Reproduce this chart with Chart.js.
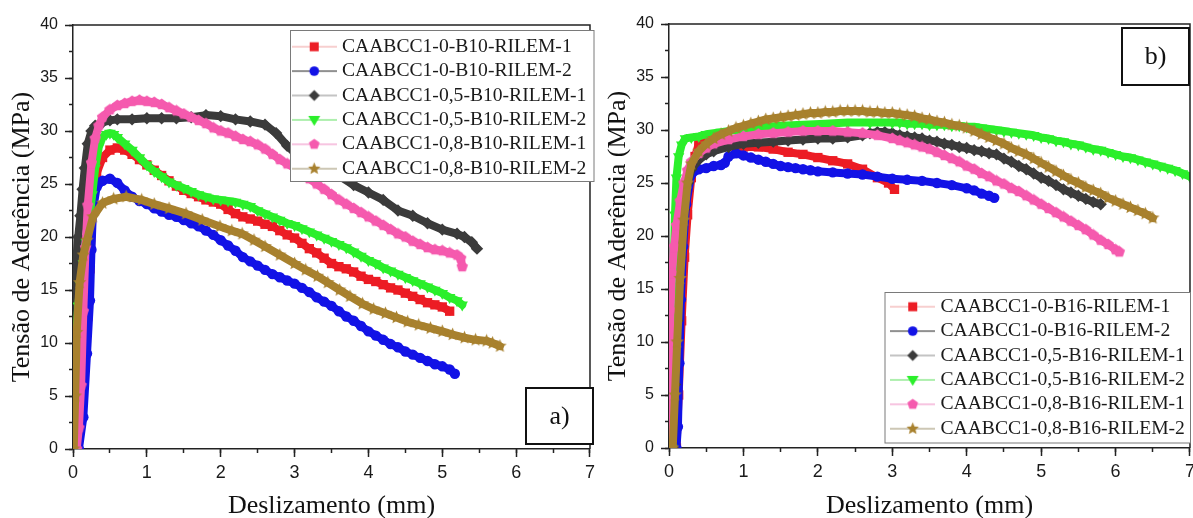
<!DOCTYPE html>
<html lang="pt">
<head>
<meta charset="utf-8">
<title>Tensão de aderência x deslizamento</title>
<script src="https://cdn.jsdelivr.net/npm/chart.js@4.4.1/dist/chart.umd.min.js"></script>
<style>
  html, body { margin: 0; padding: 0; background: #fff; overflow: hidden; }
  .panel { position: absolute; top: 0; }
  #panel-a { left: 0; }
  #panel-b { left: 600px; }
</style>
</head>
<body>
<canvas id="panel-a" class="panel" width="600" height="518"></canvas>
<canvas id="panel-b" class="panel" width="600" height="518"></canvas>
<script>
// --- Data: [slip (mm), bond stress (MPa)] ---

// B10 bars
const b10_0_r1 = [[0.05,0],[0.1,3],[0.15,7],[0.2,12.5],[0.23,17],[0.27,23],[0.32,26],[0.4,27.5],[0.5,28.2],[0.6,28.4],[0.7,28.2],[0.8,27.8],[0.9,27.3],[1.0,26.8],[1.1,26.3],[1.2,25.8],[1.3,25.3],[1.4,24.8],[1.5,24.4],[1.6,24.1],[1.7,23.8],[1.8,23.5],[1.9,23.3],[2.0,23.1],[2.1,22.6],[2.2,22.2],[2.3,21.9],[2.4,21.7],[2.5,21.5],[2.6,21.2],[2.7,21.0],[2.8,20.6],[2.9,20.2],[3.0,19.9],[3.1,19.4],[3.2,18.9],[3.3,18.5],[3.4,18.0],[3.5,17.5],[3.6,17.2],[3.7,17.0],[3.8,16.7],[3.9,16.3],[4.0,16.0],[4.1,15.8],[4.2,15.5],[4.3,15.2],[4.4,15.0],[4.5,14.7],[4.6,14.4],[4.7,14.1],[4.8,13.8],[4.9,13.6],[5.0,13.4],[5.1,13.0]];
const b10_0_r2 = [[0.08,0],[0.14,3],[0.19,9],[0.23,14],[0.25,18.8],[0.27,22.5],[0.32,24.7],[0.4,25.3],[0.5,25.5],[0.6,25.1],[0.7,24.4],[0.8,23.8],[0.9,23.4],[1.0,23.1],[1.1,22.7],[1.2,22.4],[1.3,22.1],[1.4,21.9],[1.5,21.6],[1.6,21.3],[1.7,21.0],[1.8,20.6],[1.9,20.2],[2.0,19.7],[2.1,19.2],[2.2,18.7],[2.3,18.1],[2.4,17.7],[2.5,17.3],[2.6,16.9],[2.7,16.5],[2.8,16.2],[2.9,15.9],[3.0,15.6],[3.1,15.2],[3.2,14.8],[3.3,14.3],[3.4,13.9],[3.5,13.5],[3.6,13.0],[3.7,12.5],[3.8,12.1],[3.9,11.6],[4.0,11.1],[4.1,10.7],[4.2,10.3],[4.3,9.9],[4.4,9.6],[4.5,9.2],[4.6,8.9],[4.7,8.6],[4.8,8.3],[4.9,8.0],[5.0,7.8],[5.1,7.5],[5.17,7.1]];
const b10_05_r1 = [[0.01,0],[0.02,14],[0.04,17.5],[0.07,20],[0.1,22],[0.13,24.5],[0.16,26.5],[0.2,28.8],[0.25,30],[0.3,30.5],[0.4,30.8],[0.5,31.0],[0.6,31.1],[0.8,31.1],[1.0,31.2],[1.2,31.2],[1.4,31.2],[1.6,31.3],[1.8,31.5],[2.0,31.4],[2.2,31.1],[2.4,30.9],[2.6,30.6],[2.75,29.8],[2.9,28.6],[3.0,28.0],[3.2,27.2],[3.4,26.6],[3.6,25.8],[3.8,24.9],[4.0,24.2],[4.2,23.5],[4.4,22.5],[4.6,22.0],[4.8,21.3],[5.0,20.7],[5.2,20.3],[5.3,20.0],[5.4,19.5],[5.47,18.9]];
const b10_05_r2 = [[0.02,0],[0.04,10],[0.07,13.5],[0.1,15.5],[0.14,17.5],[0.18,19.5],[0.22,21.5],[0.26,24],[0.3,26.5],[0.35,28.5],[0.4,29.4],[0.45,29.7],[0.5,29.8],[0.55,29.7],[0.6,29.4],[0.7,28.8],[0.8,28.2],[0.9,27.5],[1.0,26.8],[1.1,26.2],[1.2,25.7],[1.3,25.2],[1.4,24.9],[1.5,24.6],[1.6,24.3],[1.7,24.0],[1.8,23.8],[1.9,23.6],[2.0,23.5],[2.1,23.4],[2.2,23.3],[2.3,23.1],[2.4,22.9],[2.5,22.5],[2.6,22.2],[2.7,21.9],[2.8,21.6],[2.9,21.3],[3.0,21.1],[3.1,20.8],[3.2,20.5],[3.3,20.2],[3.4,19.9],[3.5,19.6],[3.6,19.3],[3.7,19.0],[3.8,18.6],[3.9,18.2],[4.0,17.8],[4.1,17.5],[4.2,17.1],[4.3,16.8],[4.4,16.5],[4.5,16.2],[4.6,15.9],[4.7,15.6],[4.8,15.3],[4.9,15.0],[5.0,14.7],[5.1,14.3],[5.2,14.0],[5.27,13.6]];
const b10_08_r1 = [[0.05,0],[0.08,2],[0.11,6],[0.14,13],[0.17,19],[0.2,23],[0.25,27],[0.3,29.3],[0.35,30.5],[0.4,31.3],[0.5,32.0],[0.6,32.4],[0.7,32.6],[0.8,32.8],[0.9,32.9],[1.0,32.8],[1.1,32.7],[1.2,32.5],[1.3,32.2],[1.4,31.9],[1.5,31.6],[1.6,31.3],[1.7,31.0],[1.8,30.7],[1.9,30.3],[2.0,30.0],[2.1,29.8],[2.2,29.5],[2.3,29.2],[2.4,29.0],[2.5,28.7],[2.6,28.3],[2.7,27.8],[2.8,27.3],[2.9,26.9],[3.0,26.5],[3.1,26.0],[3.2,25.5],[3.3,25.0],[3.4,24.5],[3.5,24.0],[3.6,23.5],[3.7,23.1],[3.8,22.7],[3.9,22.3],[4.0,21.9],[4.1,21.5],[4.2,21.1],[4.3,20.7],[4.4,20.3],[4.5,20.0],[4.6,19.6],[4.7,19.3],[4.8,19.0],[4.9,18.8],[5.0,18.7],[5.1,18.5],[5.2,18.3],[5.25,18.0],[5.27,17.2]];
const b10_08_r2 = [[0.01,0],[0.03,5],[0.05,11],[0.09,15.7],[0.14,18.3],[0.19,19.7],[0.27,21.9],[0.4,23.2],[0.55,23.6],[0.72,23.8],[0.93,23.5],[1.1,23.1],[1.3,22.7],[1.53,22.2],[1.75,21.6],[1.99,21.0],[2.15,20.6],[2.29,20.3],[2.45,19.7],[2.6,19.1],[2.8,18.3],[3.0,17.5],[3.15,16.9],[3.31,16.3],[3.45,15.7],[3.61,15.0],[3.75,14.4],[3.92,13.7],[4.07,13.2],[4.23,12.8],[4.38,12.4],[4.53,12.0],[4.68,11.7],[4.84,11.4],[5.0,11.1],[5.14,10.8],[5.3,10.5],[5.45,10.3],[5.6,10.2],[5.68,10.0],[5.78,9.7]];

// B16 bars
const b16_0_r1 = [[0.1,0],[0.13,5],[0.17,12],[0.21,18],[0.25,22],[0.3,25.5],[0.35,27.5],[0.4,28.7],[0.45,29.1],[0.5,28.9],[0.6,28.7],[0.7,28.6],[0.8,28.5],[0.9,28.5],[1.0,28.4],[1.2,28.4],[1.4,28.2],[1.6,27.9],[1.8,27.7],[2.0,27.4],[2.2,27.1],[2.4,26.8],[2.6,26.3],[2.8,25.5],[2.95,25.0],[3.03,24.4]];
const b16_0_r2 = [[0.1,0],[0.12,2],[0.14,8],[0.16,14],[0.19,19],[0.23,23],[0.3,25.8],[0.4,26.3],[0.5,26.4],[0.6,26.6],[0.7,26.7],[0.75,26.9],[0.8,27.5],[0.9,27.8],[1.0,27.6],[1.1,27.4],[1.2,27.2],[1.3,27.0],[1.4,26.8],[1.5,26.6],[1.6,26.5],[1.7,26.4],[1.8,26.3],[1.9,26.2],[2.0,26.1],[2.2,26.0],[2.4,25.9],[2.6,25.8],[2.8,25.6],[3.0,25.4],[3.2,25.3],[3.4,25.2],[3.6,25.0],[3.8,24.8],[4.0,24.5],[4.1,24.3],[4.2,24.0],[4.3,23.8],[4.37,23.6]];
const b16_05_r1 = [[0.05,0],[0.08,6],[0.11,12],[0.15,18],[0.2,22.5],[0.25,25],[0.3,26.3],[0.4,27.2],[0.5,27.7],[0.6,28.0],[0.8,28.4],[1.0,28.7],[1.2,28.8],[1.4,28.9],[1.6,29.0],[1.8,29.1],[2.0,29.2],[2.2,29.2],[2.4,29.3],[2.6,29.5],[2.7,29.7],[2.8,29.8],[2.9,29.8],[3.0,29.7],[3.1,29.5],[3.2,29.4],[3.3,29.3],[3.4,29.2],[3.5,29.0],[3.6,28.9],[3.7,28.7],[3.8,28.6],[3.9,28.4],[4.0,28.3],[4.1,28.1],[4.2,28.0],[4.3,27.8],[4.4,27.7],[4.5,27.3],[4.6,27.0],[4.7,26.6],[4.8,26.3],[4.9,25.9],[5.0,25.5],[5.1,25.2],[5.2,24.8],[5.3,24.4],[5.4,24.1],[5.5,23.8],[5.6,23.5],[5.7,23.2],[5.8,23.0]];
const b16_05_r2 = [[0.04,0],[0.05,8],[0.06,16],[0.08,22],[0.1,25.5],[0.13,27.5],[0.17,28.6],[0.22,29.2],[0.3,29.3],[0.4,29.4],[0.5,29.6],[0.7,29.8],[0.9,30.0],[1.1,30.1],[1.3,30.3],[1.5,30.4],[1.8,30.5],[2.1,30.6],[2.4,30.7],[2.7,30.7],[3.0,30.7],[3.1,30.7],[3.2,30.6],[3.3,30.6],[3.4,30.6],[3.5,30.5],[3.6,30.5],[3.7,30.5],[3.8,30.4],[3.9,30.4],[4.0,30.3],[4.1,30.3],[4.2,30.2],[4.3,30.1],[4.4,30.0],[4.5,29.9],[4.6,29.8],[4.7,29.7],[4.8,29.6],[4.9,29.5],[5.0,29.3],[5.1,29.2],[5.2,29.0],[5.3,28.9],[5.4,28.7],[5.5,28.6],[5.6,28.4],[5.7,28.2],[5.8,28.1],[5.9,27.9],[6.0,27.7],[6.1,27.5],[6.2,27.4],[6.3,27.2],[6.4,27.0],[6.5,26.8],[6.6,26.6],[6.7,26.4],[6.8,26.2],[6.9,25.9],[7.0,25.6]];
const b16_08_r1 = [[0.01,0],[0.02,13],[0.04,16.5],[0.07,19],[0.1,21],[0.15,23.3],[0.2,25],[0.25,26.2],[0.3,27],[0.4,27.8],[0.5,28.3],[0.6,28.7],[0.8,29.1],[1.0,29.4],[1.2,29.6],[1.4,29.7],[1.6,29.8],[1.8,29.9],[2.0,29.9],[2.2,29.9],[2.4,29.8],[2.6,29.7],[2.8,29.5],[3.0,29.2],[3.1,29.0],[3.2,28.8],[3.3,28.6],[3.4,28.4],[3.5,28.2],[3.6,27.9],[3.7,27.6],[3.8,27.3],[3.9,27.0],[4.0,26.6],[4.1,26.3],[4.2,25.9],[4.3,25.6],[4.4,25.2],[4.5,24.9],[4.6,24.5],[4.7,24.2],[4.8,23.8],[4.9,23.4],[5.0,23.0],[5.1,22.6],[5.2,22.2],[5.3,21.8],[5.4,21.4],[5.5,21.0],[5.6,20.6],[5.7,20.1],[5.8,19.6],[5.9,19.2],[6.0,18.7],[6.05,18.5]];
const b16_08_r2 = [[0.05,0],[0.08,5],[0.11,10],[0.15,16],[0.2,21.5],[0.25,25],[0.3,26.8],[0.4,28.0],[0.5,28.7],[0.6,29.2],[0.7,29.6],[0.8,29.9],[0.9,30.2],[1.0,30.4],[1.1,30.6],[1.2,30.8],[1.3,31.0],[1.4,31.1],[1.5,31.2],[1.6,31.3],[1.7,31.4],[1.8,31.5],[1.9,31.6],[2.0,31.6],[2.1,31.7],[2.2,31.7],[2.3,31.8],[2.4,31.8],[2.5,31.8],[2.6,31.8],[2.7,31.7],[2.8,31.7],[2.9,31.6],[3.0,31.6],[3.1,31.5],[3.2,31.4],[3.3,31.3],[3.4,31.1],[3.5,31.0],[3.6,30.8],[3.7,30.7],[3.8,30.5],[3.9,30.4],[4.0,30.2],[4.1,29.9],[4.2,29.6],[4.3,29.3],[4.4,29.0],[4.5,28.7],[4.6,28.3],[4.7,28.0],[4.8,27.7],[4.9,27.3],[5.0,26.9],[5.1,26.5],[5.2,26.1],[5.3,25.7],[5.4,25.3],[5.5,25.0],[5.6,24.6],[5.7,24.3],[5.8,24.0],[5.9,23.6],[6.0,23.3],[6.1,23.0],[6.2,22.7],[6.3,22.4],[6.4,22.1],[6.5,21.7]];

const seriesB10 = [b10_0_r1, b10_0_r2, b10_05_r1, b10_05_r2, b10_08_r1, b10_08_r2];
const seriesB16 = [b16_0_r1, b16_0_r2, b16_05_r1, b16_05_r2, b16_08_r1, b16_08_r2];

const labelsB10 = ['CAABCC1-0-B10-RILEM-1', 'CAABCC1-0-B10-RILEM-2', 'CAABCC1-0,5-B10-RILEM-1', 'CAABCC1-0,5-B10-RILEM-2', 'CAABCC1-0,8-B10-RILEM-1', 'CAABCC1-0,8-B10-RILEM-2'];
const labelsB16 = ['CAABCC1-0-B16-RILEM-1', 'CAABCC1-0-B16-RILEM-2', 'CAABCC1-0,5-B16-RILEM-1', 'CAABCC1-0,5-B16-RILEM-2', 'CAABCC1-0,8-B16-RILEM-1', 'CAABCC1-0,8-B16-RILEM-2'];

// axis ranges
const SLIP_MAX = 7, SLIP_STEP = 1;
const TAU_MAX = 40, TAU_STEP = 5;

// --- Styles ---
const SERIF = '"Liberation Serif", "Times New Roman", serif';
const SANS = '"Liberation Sans", Arial, sans-serif';
const INK = '#1a1a1a';
const COLORS = ['#ec1c24', '#1212e6', '#3b3b3b', '#2bef2b', '#f55aae', '#a8812e'];
const LEGEND_LINES = ['#f0a0a0', '#222222', '#8a8a8a', '#5fe05f', '#f08cc4', '#9c8f6c'];

function pentagonPath(g, x, y, r) {
  for (let i = 0; i < 5; i++) {
    const a = -Math.PI / 2 + i * 2 * Math.PI / 5;
    g.lineTo(x + r * Math.cos(a), y + r * Math.sin(a));
  }
}

function starPath(g, x, y, r) {
  for (let i = 0; i < 10; i++) {
    const a = -Math.PI / 2 + i * Math.PI / 5;
    const rr = i % 2 ? r * 0.45 : r;
    g.lineTo(x + rr * Math.cos(a), y + rr * Math.sin(a));
  }
}

// marker outline for series k, used by the legend samples
function shapePath(g, k, x, y) {
  switch (k) {
    case 0: g.rect(x - 4.5, y - 4.5, 9, 9); break;
    case 1: g.arc(x, y, 4.8, 0, Math.PI * 2); break;
    case 2: g.moveTo(x, y - 5.5); g.lineTo(x + 5.5, y); g.lineTo(x, y + 5.5); g.lineTo(x - 5.5, y); break;
    case 3: g.moveTo(x - 6, y - 4); g.lineTo(x + 6, y - 4); g.lineTo(x, y + 6); break;
    case 4: pentagonPath(g, x, y, 5.6); break;
    case 5: starPath(g, x, y, 6.5); break;
  }
}

function markerCanvas(pathFn, size, color) {
  const c = document.createElement('canvas');
  c.width = c.height = size;
  const g = c.getContext('2d');
  g.fillStyle = color;
  g.beginPath();
  pathFn(g, size / 2, size / 2, size / 2 - 0.5);
  g.closePath();
  g.fill();
  return c;
}

const MARKERS = [
  { style: 'rect', radius: 6.6 },
  { style: 'circle', radius: 5.2 },
  { style: 'rectRot', radius: 6.2 },
  { style: 'triangle', radius: 6.6, rotation: 180 },
  { style: markerCanvas(pentagonPath, 13, COLORS[4]), radius: 6.5 },
  { style: markerCanvas(starPath, 15, COLORS[5]), radius: 7 },
];

// line-and-marker swatch shown in the legend
function legendSample(k) {
  const c = document.createElement('canvas');
  c.width = 45;
  c.height = 16;
  const g = c.getContext('2d');
  g.strokeStyle = LEGEND_LINES[k];
  g.lineWidth = 1.2;
  g.beginPath();
  g.moveTo(0, 8);
  g.lineTo(45, 8);
  g.stroke();
  g.fillStyle = COLORS[k];
  g.beginPath();
  shapePath(g, k, 22.5, 8);
  g.closePath();
  g.fill();
  return c;
}
const legendSamples = COLORS.map((_, k) => legendSample(k));

function dataset(label, points, k) {
  const m = MARKERS[k];
  return {
    label,
    data: points,
    borderColor: COLORS[k],
    backgroundColor: COLORS[k],
    borderWidth: 8,
    borderJoinStyle: 'round',
    borderCapStyle: 'round',
    tension: 0,
    pointStyle: m.style,
    pointRadius: m.radius,
    pointRotation: m.rotation || 0,
    pointBorderWidth: 0,
    pointBackgroundColor: COLORS[k],
    order: 6 - k,
  };
}

// --- Frame, legend box and panel tag ---
const panelDecor = {
  id: 'panelDecor',
  afterLayout(chart, args, opts) {
    const lg = chart.legend;
    const box = opts.legendBox;
    lg.left = opts.legendAnchor.left;
    lg.top = opts.legendAnchor.top;
    lg.right = box.right + 10;
    lg.bottom = box.bottom + 30;
    lg.width = lg.right - lg.left;
    lg.height = lg.bottom - lg.top;
  },
  afterDatasetsDraw(chart, args, opts) {
    const { ctx, chartArea: a } = chart;
    const box = opts.legendBox;
    const tag = opts.tag;
    ctx.save();
    ctx.strokeStyle = '#222';
    ctx.lineWidth = 1.5;
    ctx.beginPath();
    ctx.moveTo(a.left, a.top);
    ctx.lineTo(a.right, a.top);
    ctx.lineTo(a.right, a.bottom);
    ctx.stroke();

    ctx.fillStyle = '#fff';
    ctx.fillRect(box.left, box.top, box.right - box.left, box.bottom - box.top);
    ctx.strokeStyle = '#7a7a7a';
    ctx.lineWidth = 1;
    ctx.strokeRect(box.left, box.top, box.right - box.left, box.bottom - box.top);

    ctx.fillRect(tag.left, tag.top, tag.right - tag.left, tag.bottom - tag.top);
    ctx.strokeStyle = '#111';
    ctx.lineWidth = 2;
    ctx.strokeRect(tag.left, tag.top, tag.right - tag.left, tag.bottom - tag.top);
    ctx.fillStyle = '#111';
    ctx.font = '26px ' + SERIF;
    ctx.textAlign = 'center';
    ctx.textBaseline = 'middle';
    ctx.fillText(tag.text, (tag.left + tag.right) / 2, (tag.top + tag.bottom) / 2 + 1);
    ctx.restore();

    chart.legend.draw();
  },
};

function buildPanel(canvasId, series, labels, L) {
  return new Chart(document.getElementById(canvasId), {
    type: 'line',
    data: { datasets: series.map((pts, k) => dataset(labels[k], pts, k)) },
    options: {
      responsive: false,
      animation: false,
      events: [],
      layout: { padding: { top: L.top, right: L.right, left: 0, bottom: 0 } },
      scales: {
        x: {
          type: 'linear', min: 0, max: SLIP_MAX, weight: 1,
          ticks: { stepSize: SLIP_STEP, color: INK, padding: 5, font: { family: SANS, size: 18 } },
          grid: { drawOnChartArea: false, tickLength: 8, tickWidth: 1.5, tickColor: '#222' },
          border: { color: '#222', width: 1.5 },
          title: { display: true, text: 'Deslizamento (mm)', color: '#111', padding: { top: 0, bottom: 0 }, font: { family: SERIF, size: 26, lineHeight: 0.9 } },
          afterFit: (s) => { s.height = L.xAxisHeight; },
        },
        xMinor: {
          type: 'linear', position: 'bottom', min: 0, max: SLIP_MAX, weight: 0,
          ticks: { stepSize: SLIP_STEP / 2, display: false },
          grid: { drawOnChartArea: false, tickLength: 4, tickWidth: 1.5, tickColor: '#222' },
          border: { display: false },
          afterFit: (s) => { s.height = 0; },
        },
        y: {
          type: 'linear', min: 0, max: TAU_MAX, weight: 1,
          ticks: { stepSize: TAU_STEP, color: INK, padding: 7, font: { family: SANS, size: 16 } },
          grid: { drawOnChartArea: false, tickLength: 8, tickWidth: 1.5, tickColor: '#222' },
          border: { color: '#222', width: 1.5 },
          title: { display: true, text: 'Tensão de Aderência (MPa)', color: '#111', padding: { top: L.yTitlePad, bottom: 0 }, font: { family: SERIF, size: 26, lineHeight: 0.9 } },
          afterFit: (s) => { s.width = L.yAxisWidth; },
        },
        yMinor: {
          type: 'linear', position: 'left', min: 0, max: TAU_MAX, weight: 0,
          ticks: { stepSize: TAU_STEP / 2, display: false },
          grid: { drawOnChartArea: false, tickLength: 4, tickWidth: 1.5, tickColor: '#222' },
          border: { display: false },
          afterFit: (s) => { s.width = 0; },
        },
      },
      plugins: {
        tooltip: { enabled: false },
        legend: {
          position: 'chartArea',
          align: 'start',
          labels: {
            usePointStyle: true,
            pointStyleWidth: 36,
            padding: 4.8,
            color: INK,
            font: { family: SERIF, size: 19.6 },
            generateLabels: (chart) => chart.data.datasets.map((ds, i) => ({
              text: ds.label,
              datasetIndex: i,
              hidden: false,
              pointStyle: legendSamples[i],
              fillStyle: COLORS[i],
              strokeStyle: COLORS[i],
              lineWidth: 0,
              fontColor: INK,
            })),
          },
        },
        panelDecor: { legendBox: L.legendBox, legendAnchor: L.legendAnchor, tag: L.tag },
      },
    },
    plugins: [panelDecor],
  });
}

// --- Panels ---
buildPanel('panel-a', seriesB10, labelsB10, {
  top: 25, right: 2, yAxisWidth: 73, xAxisHeight: 69, yTitlePad: 10.5,
  legendBox: { left: 290.5, top: 30.5, right: 594, bottom: 181.5 },
  legendAnchor: { left: 291.4, top: 32.1 },
  tag: { text: 'a)', left: 526, top: 388, right: 593, bottom: 444 },
});

buildPanel('panel-b', seriesB16, labelsB16, {
  top: 24, right: 6, yAxisWidth: 69, xAxisHeight: 70, yTitlePad: 6.5,
  legendBox: { left: 285, top: 292.5, right: 590.5, bottom: 443 },
  legendAnchor: { left: 289.9, top: 292.1 },
  tag: { text: 'b)', left: 522, top: 28, right: 589, bottom: 85 },
});
</script>
</body>
</html>
